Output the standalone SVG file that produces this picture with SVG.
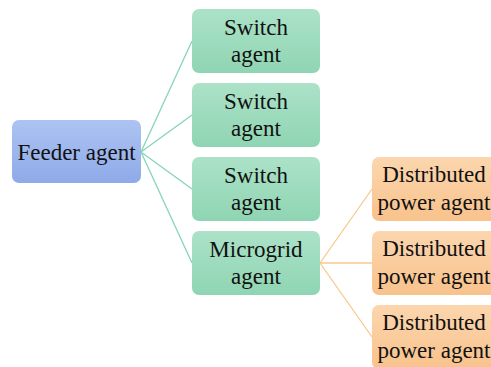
<svg xmlns="http://www.w3.org/2000/svg" width="491" height="367" viewBox="0 0 491 367">
  <defs>
    <linearGradient id="gBlue" x1="0" y1="0" x2="0" y2="1">
      <stop offset="0" stop-color="#adc3f2"/>
      <stop offset="1" stop-color="#8eaae8"/>
    </linearGradient>
    <linearGradient id="gGreen" x1="0" y1="0" x2="0" y2="1">
      <stop offset="0" stop-color="#ace2c8"/>
      <stop offset="1" stop-color="#8fd5b3"/>
    </linearGradient>
    <linearGradient id="gOrange" x1="0" y1="0" x2="0" y2="1">
      <stop offset="0" stop-color="#fcd6ae"/>
      <stop offset="1" stop-color="#f8c28c"/>
    </linearGradient>
  </defs>
  <style>
    text { font-family: "Liberation Serif", "Times New Roman", serif; font-size: 23px; fill: #111; text-anchor: middle; }
    .feeder { fill: url(#gBlue); }
    .green { fill: url(#gGreen); }
    .orange { fill: url(#gOrange); }
    .teal { stroke: #86d6b6; stroke-width: 1.3; fill: none; }
    .amber { stroke: #f6ca8c; stroke-width: 1.3; fill: none; }
  </style>
  <rect width="491" height="367" fill="#ffffff"/>

  <g id="connectors">
    <path class="teal" d="M141 152 L192 41 M141 152 L192 115 M141 152 L192 189 M141 152 L192 263"/>
    <path class="amber" d="M320 263 L372 189 M320 263 L372 263 M320 263 L372 337"/>
  </g>

  <g id="feeder">
    <rect class="feeder" x="12" y="120" width="129" height="63" rx="7"/>
    <text x="76.5" y="160">Feeder agent</text>
  </g>

  <g id="switch1">
    <rect class="green" x="192" y="9" width="128" height="64" rx="7"/>
    <text x="256" y="35">Switch</text>
    <text x="256" y="62">agent</text>
  </g>
  <g id="switch2">
    <rect class="green" x="192" y="83" width="128" height="64" rx="7"/>
    <text x="256" y="109">Switch</text>
    <text x="256" y="136">agent</text>
  </g>
  <g id="switch3">
    <rect class="green" x="192" y="157" width="128" height="64" rx="7"/>
    <text x="256" y="183">Switch</text>
    <text x="256" y="210">agent</text>
  </g>
  <g id="microgrid">
    <rect class="green" x="192" y="231" width="128" height="64" rx="7"/>
    <text x="256" y="257">Microgrid</text>
    <text x="256" y="284">agent</text>
  </g>

  <g id="dpower1">
    <rect class="orange" x="372" y="157" width="128" height="64" rx="7"/>
    <text x="434" y="182">Distributed</text>
    <text x="434" y="210">power agent</text>
  </g>
  <g id="dpower2">
    <rect class="orange" x="372" y="231" width="128" height="64" rx="7"/>
    <text x="434" y="256">Distributed</text>
    <text x="434" y="284">power agent</text>
  </g>
  <g id="dpower3">
    <rect class="orange" x="372" y="305" width="128" height="64" rx="7"/>
    <text x="434" y="330">Distributed</text>
    <text x="434" y="358">power agent</text>
  </g>
</svg>
